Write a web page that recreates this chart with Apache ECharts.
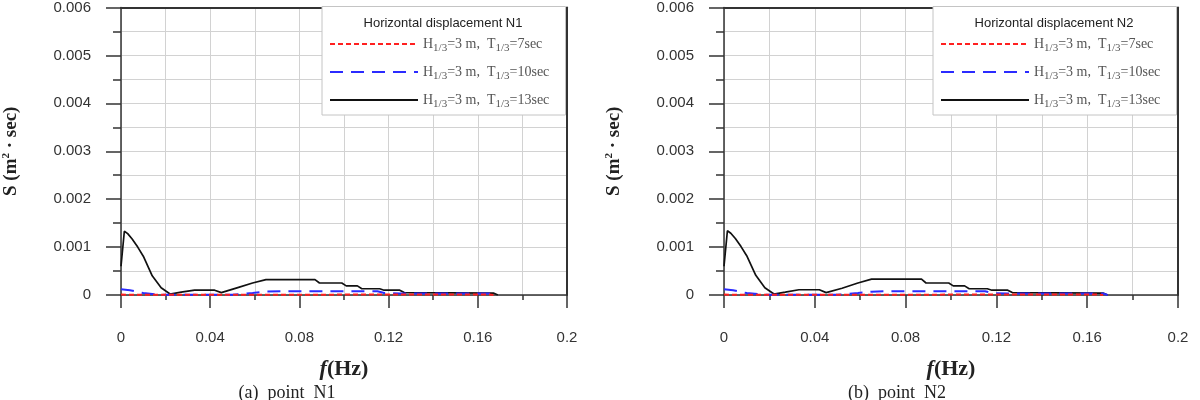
<!DOCTYPE html>
<html>
<head>
<meta charset="utf-8">
<script src="https://cdn.jsdelivr.net/npm/echarts@6/dist/echarts.min.js"></script>
<style>
  body { margin: 0; background: #fff; }
  #echart_spectrum { width: 1200px; height: 400px; }
</style>
</head>
<body>
<div id="echart_spectrum"></div>
<script>
// legend names (order as in the legend box)
var seriesNames = ["H1/3=3 m, T1/3=7sec", "H1/3=3 m, T1/3=10sec", "H1/3=3 m, T1/3=13sec"];
var panelTitles = ["Horizontal displacement N1", "Horizontal displacement N2"];
var captions = ["(a)  point  N1", "(b)  point  N2"];
var xTicks = [0, 0.04, 0.08, 0.12, 0.16, 0.2];
var yTicks = [0, 0.001, 0.002, 0.003, 0.004, 0.005, 0.006];

// T1/3 = 7sec
var freq7 = [0, 0.02, 0.05, 0.1, 0.13, 0.165, 0.167];
var s7N1 = [0.000008, 0.000005, 0.000006, 0.000008, 0.00001, 0.00001, 0];
var s7N2 = [0.000008, 0.000005, 0.000006, 0.000008, 0.00001, 0.00001, 0];

// T1/3 = 10sec
var freq10 = [0, 0.004, 0.01, 0.018, 0.05, 0.059, 0.065, 0.073, 0.115, 0.118, 0.125, 0.167, 0.169];
var s10N1 = [0.00012, 0.0001, 0.00004, 0.000005, 0.000005, 0.00004, 0.00007, 0.00008, 0.00008, 0.00004, 0.00003, 0.00003, 0];
var s10N2 = [0.00012, 0.0001, 0.00004, 0.000005, 0.000005, 0.00004, 0.00007, 0.00008, 0.00008, 0.00004, 0.00003, 0.00003, 0];

// T1/3 = 13sec
var freq13 = [0, 0.0015, 0.003, 0.005, 0.0075, 0.01, 0.014, 0.018, 0.022, 0.027, 0.033, 0.042, 0.045, 0.052, 0.059, 0.065,
  0.087, 0.089, 0.099, 0.101, 0.106, 0.108, 0.116, 0.118, 0.125, 0.127, 0.167, 0.169];
var s13N1 = [0.0006, 0.00133, 0.00128, 0.00117, 0.001, 0.00081, 0.0004, 0.00015, 0.00002, 0.00006, 0.0001, 0.0001, 0.00005, 0.00015, 0.00025, 0.00032,
  0.00032, 0.00025, 0.00025, 0.00019, 0.00019, 0.00013, 0.00013, 0.0001, 0.0001, 0.00005, 0.00004, 0];
var s13N2 = [0.0006, 0.00134, 0.00129, 0.00118, 0.00101, 0.00082, 0.00041, 0.00015, 0.00002, 0.00006, 0.00011, 0.00011, 0.00005, 0.00014, 0.00025, 0.00033,
  0.00033, 0.00025, 0.00025, 0.00019, 0.00019, 0.00013, 0.00013, 0.0001, 0.0001, 0.00005, 0.00004, 0];

function pairs(xs, ys) {
  return xs.map(function (x, i) { return [x, ys[i]]; });
}

var panels = [
  { left: 114, width: 453, s7: s7N1, s10: s10N1, s13: s13N1 },
  { left: 724, width: 454, s7: s7N2, s10: s10N2, s13: s13N2 }
];

var grids = [], xAxes = [], yAxes = [], series = [], legends = [], graphics = [];
var axisColor = "#333";

panels.forEach(function (p, k) {
  grids.push({ left: p.left, top: 5, width: p.width, height: 290 });

  xAxes.push({
    gridIndex: k, type: "value", min: 0, max: 0.2, interval: 0.04,
    name: "{i|f}{b|(Hz)}", nameLocation: "middle", nameGap: 63,
    nameTextStyle: {
      rich: {
        i: { fontFamily: "Liberation Serif", fontStyle: "italic", fontWeight: "bold", fontSize: 22, color: "#222" },
        b: { fontFamily: "Liberation Serif", fontWeight: "bold", fontSize: 22, color: "#222" }
      }
    },
    axisLine: { onZero: false, lineStyle: { color: axisColor, width: 1.5 } },
    axisTick: { length: 13, lineStyle: { color: axisColor, width: 1.5 } },
    minorTick: { show: true, splitNumber: 2, length: 5, lineStyle: { color: axisColor, width: 1.5 } },
    splitLine: { show: true, lineStyle: { color: "#d2d2d2" } },
    minorSplitLine: { show: true, lineStyle: { color: "#d2d2d2" } },
    axisLabel: {
      margin: 35, fontFamily: "Liberation Sans", fontSize: 15, color: "#333",
      formatter: function (v) { return String(+v.toFixed(2)); }
    }
  });
  // top frame line
  xAxes.push({
    gridIndex: k, type: "value", position: "top", min: 0, max: 0.2, interval: 0.04,
    axisLine: { show: true, onZero: false, lineStyle: { color: axisColor, width: 2 } },
    axisTick: { show: false }, axisLabel: { show: false }, splitLine: { show: false }
  });

  yAxes.push({
    gridIndex: k, type: "value", min: 0, max: 0.006, interval: 0.001,
    name: "{b|S (m}{sup|2}{b| · sec)}", nameLocation: "middle", nameGap: 100,
    nameTextStyle: {
      rich: {
        b: { fontFamily: "Liberation Serif", fontWeight: "bold", fontSize: 19, color: "#222" },
        sup: { fontFamily: "Liberation Serif", fontWeight: "bold", fontSize: 11, color: "#222", padding: [0, 0, 9, 0] }
      }
    },
    axisLine: { onZero: false, lineStyle: { color: axisColor, width: 1.5 } },
    axisTick: { length: 15, lineStyle: { color: axisColor, width: 1.5 } },
    minorTick: { show: true, splitNumber: 2, length: 8, lineStyle: { color: axisColor, width: 1.5 } },
    splitLine: { show: true, lineStyle: { color: "#d2d2d2" } },
    minorSplitLine: { show: true, lineStyle: { color: "#d2d2d2" } },
    axisLabel: {
      margin: 30, fontFamily: "Liberation Sans", fontSize: 15, color: "#333",
      formatter: function (v) { return String(+v.toFixed(3)); }
    }
  });
  // right frame line
  yAxes.push({
    gridIndex: k, type: "value", position: "right", min: 0, max: 0.006, interval: 0.001,
    axisLine: { show: true, onZero: false, lineStyle: { color: axisColor, width: 2 } },
    axisTick: { show: false }, axisLabel: { show: false }, splitLine: { show: false }
  });

  var xi = k * 2, yi = k * 2;
  series.push({
    name: seriesNames[2], type: "line", xAxisIndex: xi, yAxisIndex: yi, symbol: "none", z: 3,
    lineStyle: { color: "#111", width: 1.7 },
    itemStyle: { color: "#111" },
    data: pairs(freq13, p.s13)
  });
  series.push({
    name: seriesNames[1], type: "line", xAxisIndex: xi, yAxisIndex: yi, symbol: "none", z: 4,
    lineStyle: { color: "#2b2bff", width: 2, type: [13, 8] },
    itemStyle: { color: "#2b2bff" },
    data: pairs(freq10, p.s10)
  });
  series.push({
    name: seriesNames[0], type: "line", xAxisIndex: xi, yAxisIndex: yi, symbol: "none", z: 5,
    lineStyle: { color: "#ff2020", width: 2, type: [5, 3] },
    itemStyle: { color: "#ff2020" },
    data: pairs(freq7, p.s7)
  });

  var boxLeft = p.left + p.width - 245;
  legends.push({
    z: 10, orient: "vertical", left: boxLeft + 7, top: 37, padding: 0,
    data: seriesNames, itemWidth: 88, itemHeight: 14, itemGap: 11,
    selectedMode: false,
    itemStyle: { opacity: 0, borderWidth: 0 },
    formatter: function (name) {
      var m = name.match(/T1\/3=(\d+)sec/);
      return "{n|H}{s|1/3}{n|=3 m,  T}{s|1/3}{n|=" + m[1] + "sec}";
    },
    textStyle: {
      rich: {
        n: { fontFamily: "Liberation Serif", fontSize: 14, color: "#555" },
        s: { fontFamily: "Liberation Serif", fontSize: 11, color: "#555", padding: [9, 0, 0, 0] }
      }
    }
  });

  // legend box, kept inside the frame lines
  graphics.push({
    type: "rect", z: 6,
    shape: { x: boxLeft, y: 6.5, width: 243.5, height: 108.5 },
    style: { fill: "#fff", stroke: "#c4c4c4", lineWidth: 1 }
  });
  graphics.push({
    type: "text", z: 10, x: boxLeft + 121, y: 23,
    style: {
      text: panelTitles[k], fontFamily: "Liberation Sans", fontSize: 13, fill: "#222",
      textAlign: "center", textVerticalAlign: "middle"
    }
  });
  graphics.push({
    type: "text", z: 10, x: p.left + 173, y: 393,
    style: {
      text: captions[k], fontFamily: "Liberation Serif", fontSize: 18, fill: "#222",
      textAlign: "center", textVerticalAlign: "middle"
    }
  });
});

var myChart = echarts.init(document.getElementById("echart_spectrum"));
myChart.setOption({
  animation: false,
  backgroundColor: "#fff",
  grid: grids,
  xAxis: xAxes,
  yAxis: yAxes,
  legend: legends,
  graphic: graphics,
  series: series
});
</script>
</body>
</html>
